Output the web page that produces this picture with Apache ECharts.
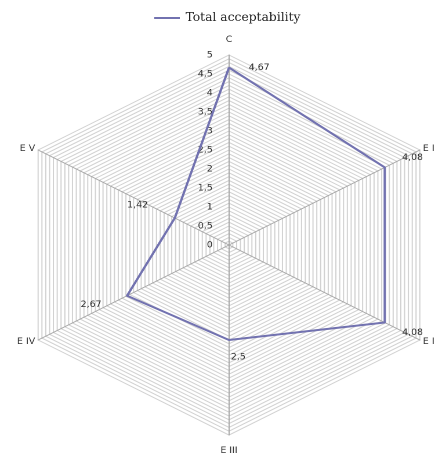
<!DOCTYPE html>
<html><head><meta charset="utf-8">
<script src="https://cdn.jsdelivr.net/npm/echarts@6/dist/echarts.min.js"></script>
<style>
html,body{margin:0;padding:0;overflow:hidden;background:#fff;}
#c{width:375px;height:453px;transform:scaleX(1.16);transform-origin:0 0;}
</style>
</head><body><div id="c"></div>
<script>
// ---- data ----
const seriesName = 'Total acceptability';
const categories = ['C', 'E I', 'E II', 'E III', 'E IV', 'E V'];
const values = [4.67, 4.08, 4.08, 2.5, 2.67, 1.42];
const axisMin = 0;
const axisMax = 5;
const tickStep = 0.5;
const tickLabels = ['0', '0,5', '1', '1,5', '2', '2,5', '3', '3,5', '4', '4,5', '5'];

// ---- layout / style (unscaled px; page is stretched horizontally by CSS) ----
const CX = 197.4, CY = 245, R = 190;
const LINE_COLOR = '#7272b0';
const SANS = '"DejaVu Sans Condensed", "DejaVu Sans", sans-serif';
const SERIF = '"DejaVu Serif Condensed", "DejaVu Serif", serif';
// label offsets per category (same order as categories)
const labelOffsets = [[26, 0], [24, -10], [24, 10], [8, 17], [-31, 9], [-32, -13]];

// ECharts radar goes counter-clockwise; reorder so categories run clockwise
const order = [0, 5, 4, 3, 2, 1];

const chart = echarts.init(document.getElementById('c'), null, {renderer: 'canvas', devicePixelRatio: 2});

function whichCategory(x, y) {
  if (Math.abs(x - CX) < 4) return y < CY ? 0 : 3;
  if (x > CX) return y < CY ? 1 : 2;
  return y > CY ? 4 : 5;
}

const nameFont = {fontSize: 9, fontFamily: SANS, color: '#333'};

chart.setOption({
  animation: false,
  backgroundColor: '#ffffff',
  legend: {
    data: [seriesName],
    left: 128, top: 7,
    icon: 'rect', itemWidth: 22, itemHeight: 2, itemGap: 10,
    textStyle: {fontFamily: SERIF, fontSize: 11.8, color: '#222'}
  },
  radar: {
    center: [CX, CY],
    radius: R,
    startAngle: 90,
    shape: 'polygon',
    splitNumber: Math.round((axisMax - axisMin) / 0.1),
    indicator: order.map(i => ({name: categories[i], min: axisMin, max: axisMax})),
    axisName: Object.assign({}, nameFont, {
      formatter: function (name) {
        if (name === categories[0]) return '{n|' + name + '}\n{s| }';
        if (name === categories[3]) return '{s| }\n{n|' + name + '}';
        return '{n|' + name + '}';
      },
      rich: {
        n: Object.assign({lineHeight: 11}, nameFont),
        s: {fontSize: 2, lineHeight: 7}
      }
    }),
    nameGap: 3,
    axisLine: {lineStyle: {color: '#a8a8a8', width: 1}},
    splitLine: {lineStyle: {color: '#d2d2d2', width: 1}},
    splitArea: {show: false},
    axisTick: {show: false},
    axisLabel: {show: false}
  },
  grid: {left: CX, top: CY - R, width: 1, height: R, containLabel: false},
  xAxis: {type: 'value', show: false, min: 0, max: 1},
  yAxis: {
    type: 'value', min: axisMin, max: axisMax, interval: tickStep,
    axisLine: {show: false}, axisTick: {show: false}, splitLine: {show: false},
    axisLabel: {
      margin: 14, fontSize: 9, color: '#333', fontFamily: SANS,
      formatter: v => tickLabels[Math.round((v - axisMin) / tickStep)]
    }
  },
  series: [{
    type: 'radar',
    name: seriesName,
    symbol: 'circle',
    symbolSize: 1,
    lineStyle: {color: LINE_COLOR, width: 2},
    itemStyle: {color: LINE_COLOR},
    label: {
      show: true, position: 'inside', fontSize: 9, color: '#333', fontFamily: SANS,
      formatter: p => String(p.value).replace('.', ',')
    },
    labelLayout: function (p) {
      const x = p.rect.x + p.rect.width / 2, y = p.rect.y + p.rect.height / 2;
      const k = whichCategory(x, y);
      return {dx: labelOffsets[k][0], dy: labelOffsets[k][1]};
    },
    data: [{name: seriesName, value: order.map(i => values[i])}]
  }]
});
</script>
</body></html>
